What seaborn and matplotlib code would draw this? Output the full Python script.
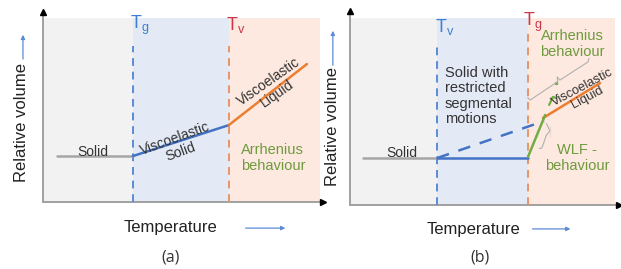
import matplotlib.pyplot as plt
import seaborn as sns

# panel (a) data (temperature / relative volume, arbitrary units 0-100)
a_tg, a_tv = 32.5, 67.1
a_solid_x, a_solid_y = [5.1, 32.5], [25.0, 25.0]
a_vsolid_x, a_vsolid_y = [32.5, 67.1], [25.0, 41.8]
a_vliq_x, a_vliq_y = [67.1, 95.3], [41.8, 75.0]

# panel (b) data
b_tv, b_tg = 32.5, 66.4
b_solid_x, b_solid_y = [4.9, 32.5], [25.1, 25.1]
b_glass_x, b_glass_y = [32.5, 66.4], [25.1, 25.1]
b_dash_x, b_dash_y = [32.5, 72.4], [25.1, 44.9]
b_wlf_x, b_wlf_y = [66.4, 72.8], [25.7, 48.1]
b_vliq_x, b_vliq_y = [72.0, 93.3], [46.5, 65.2]
b_arr_x, b_arr_y = [74.3, 75.7, 76.9], [53.5, 57.8, 57.2]
b_br1_x, b_br1_y = [66.3, 67.2, 77.5, 77.3, 78.3, 88.8, 89.2], [57.5, 56.1, 66.0, 68.5, 66.8, 76.5, 78.5]
b_br2_x, b_br2_y = [73.3, 74.6, 73.1, 74.6, 73.0, 71.6, 70.6], [43.6, 42.8, 37.0, 36.4, 36.2, 30.5, 30.2]

grey, blue, orange, green = '#a6a6a6', '#4472c4', '#ed7d31', '#70ad47'
txt_green = '#6f9a3e'

sns.set_style('white')
plt.rcParams['font.family'] = ['Liberation Sans', 'DejaVu Sans']

fig = plt.figure(figsize=(6.21, 2.69), dpi=100)
ax1 = fig.add_axes([0.0692, 0.249, 0.446, 0.684])
ax2 = fig.add_axes([0.5636, 0.238, 0.4316, 0.695])


def frame(ax, xend):
    ax.set_xlim(0, 100)
    ax.set_ylim(0, 100)
    for s in ax.spines.values():
        s.set_visible(False)
    ax.set_xticks([])
    ax.set_yticks([])
    ax.plot([0, 0], [0, 1.035], color='#9a9a9a', lw=1.3, transform=ax.transAxes, clip_on=False)
    ax.plot([0, xend], [0, 0], color='#9a9a9a', lw=1.3, transform=ax.transAxes, clip_on=False)
    ax.plot([0], [1.035], marker='^', color='black', ms=4, transform=ax.transAxes, clip_on=False)
    ax.plot([xend], [0], marker='>', color='black', ms=4, transform=ax.transAxes, clip_on=False)


# ---- panel (a)
ax = ax1
ax.axvspan(0, a_tg, color='#f2f2f2', lw=0)
ax.axvspan(a_tg, a_tv, color='#e3eaf6', lw=0)
ax.axvspan(a_tv, 100, color='#fde9df', lw=0)
frame(ax, 1.011)
ax.axvline(a_tg, ymax=0.85, color='#5b8bd6', ls=(0, (4, 3)), lw=1.4)
ax.axvline(a_tv, ymax=0.85, color='#e8956a', ls=(0, (4, 3)), lw=1.4)
sns.lineplot(x=a_solid_x, y=a_solid_y, color=grey, lw=1.8, ax=ax)
sns.lineplot(x=a_vsolid_x, y=a_vsolid_y, color=blue, lw=1.8, ax=ax)
sns.lineplot(x=a_vliq_x, y=a_vliq_y, color=orange, lw=1.8, ax=ax)
ax.text(31.4, 96.2, r'T$_\mathregular{g}$', color='#3f7fcf', fontsize=13, va='center')
ax.text(66.1, 96.2, r'T$_\mathregular{v}$', color='#c8374a', fontsize=13, va='center')
ax.text(18.1, 27.2, 'Solid', fontsize=10, color='#333333', ha='center', va='center')
ax.text(48.7, 31.0, 'Viscoelastic\nSolid', fontsize=10, color='#333333', ha='center', va='center',
        rotation=20, linespacing=1.0)
ax.text(83.0, 62.0, 'Viscoelastic\nLiquid', fontsize=10, color='#333333', ha='center', va='center',
        rotation=35, linespacing=1.0)
ax.text(71.5, 23.9, 'Arrhenius\nbehaviour', fontsize=10.5, color=txt_green, ha='left', va='center',
        linespacing=1.15)

# ---- panel (b)
ax = ax2
ax.axvspan(0, b_tv, color='#f2f2f2', lw=0)
ax.axvspan(b_tv, b_tg, color='#e3eaf6', lw=0)
ax.axvspan(b_tg, 99, color='#fde9df', lw=0)
frame(ax, 1.004)
ax.axvline(b_tv, ymax=0.856, color='#5b8bd6', ls=(0, (4, 3)), lw=1.4)
ax.axvline(b_tg, ymax=0.925, color='#e8956a', ls=(0, (4, 3)), lw=1.4)
sns.lineplot(x=b_solid_x, y=b_solid_y, color=grey, lw=1.8, ax=ax)
sns.lineplot(x=b_glass_x, y=b_glass_y, color=blue, lw=1.8, ax=ax)
sns.lineplot(x=b_dash_x, y=b_dash_y, color=blue, lw=1.8, ls=(0, (5, 4)), ax=ax)
sns.lineplot(x=b_vliq_x, y=b_vliq_y, color=orange, lw=1.8, ax=ax)
sns.lineplot(x=b_wlf_x, y=b_wlf_y, color=green, lw=1.8, ax=ax)
sns.lineplot(x=b_arr_x, y=b_arr_y, color=green, lw=1.6, sort=False, ax=ax)
ax.plot([76.9], [65.2], 'o', color=green, ms=1.5)
sns.lineplot(x=b_br1_x, y=b_br1_y, color='#b0b0b0', lw=0.8, sort=False, ax=ax)
sns.lineplot(x=b_br2_x, y=b_br2_y, color='#b0b0b0', lw=0.8, sort=False, ax=ax)
ax.text(31.7, 95.2, r'T$_\mathregular{v}$', color='#3f7fcf', fontsize=13, va='center')
ax.text(64.6, 97.9, r'T$_\mathregular{g}$', color='#c8374a', fontsize=13, va='center')
ax.text(19.4, 27.8, 'Solid', fontsize=10, color='#333333', ha='center', va='center')
ax.text(35.4, 58.3, 'Solid with\nrestricted\nsegmental\nmotions', fontsize=10.5, color='#333333',
        ha='left', va='center', linespacing=1.15)
ax.text(82.8, 86.1, 'Arrhenius\nbehaviour', fontsize=10.5, color=txt_green, ha='center', va='center',
        linespacing=1.15)
ax.text(87.6, 60.0, 'Viscoelastic\nLiquid', fontsize=9.3, color='#333333', ha='center', va='center',
        rotation=28, linespacing=1.0)
ax.text(84.7, 25.1, 'WLF -\nbehaviour', fontsize=10.5, color=txt_green, ha='center', va='center',
        linespacing=1.15)

# ---- axis titles and arrows
for x, y in [(0.0354, 0.546), (0.536, 0.528)]:
    fig.text(x, y, 'Relative volume', rotation=90, fontsize=12, ha='center', va='center', color='#222222')
for x, y in [(0.275, 0.156), (0.763, 0.145)]:
    fig.text(x, y, 'Temperature', fontsize=12, ha='center', va='center', color='#222222')
arrow = dict(arrowstyle='-|>', color='#5b8bd6', lw=0.9, mutation_scale=6)
fig.add_artist(plt.Annotation('', xy=(0.037, 0.881), xytext=(0.037, 0.770), xycoords='figure fraction', arrowprops=arrow))
fig.add_artist(plt.Annotation('', xy=(0.536, 0.896), xytext=(0.536, 0.747), xycoords='figure fraction', arrowprops=arrow))
fig.add_artist(plt.Annotation('', xy=(0.464, 0.152), xytext=(0.391, 0.152), xycoords='figure fraction', arrowprops=arrow))
fig.add_artist(plt.Annotation('', xy=(0.923, 0.149), xytext=(0.853, 0.149), xycoords='figure fraction', arrowprops=arrow))
fig.text(0.274, 0.041, '(a)', fontsize=11.5, ha='center', va='center', family='Open Sans', color='#333333')
fig.text(0.773, 0.041, '(b)', fontsize=11.5, ha='center', va='center', family='Open Sans', color='#333333')

fig.savefig('out.png', dpi=100)
